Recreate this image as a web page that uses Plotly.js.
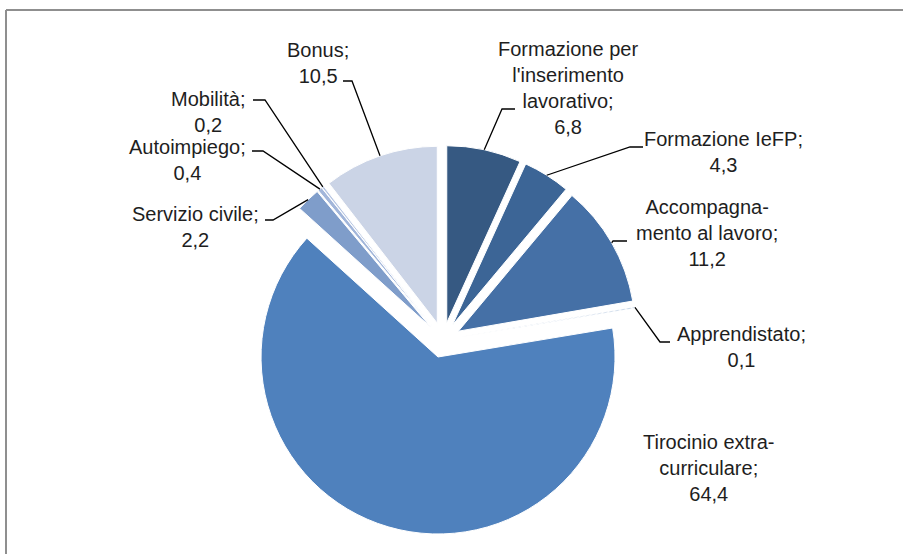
<!DOCTYPE html>
<html>
<head>
<meta charset="utf-8">
<script src="https://cdn.plot.ly/plotly-3.0.1.min.js"></script>
<style>
  html, body { margin: 0; padding: 0; background: #ffffff; }
  #chart { width: 903px; height: 554px; }
</style>
</head>
<body>
<div id="chart"></div>
<script>
// ---- data ----
const categories = ["Formazione per l'inserimento lavorativo", "Formazione IeFP", "Accompagnamento al lavoro", "Apprendistato", "Tirocinio extra-curriculare", "Servizio civile", "Autoimpiego", "Mobilità", "Bonus"];
const values = [6.8, 4.3, 11.2, 0.1, 64.4, 2.2, 0.4, 0.2, 10.5];
const labelLines = ["Formazione per<br>l'inserimento<br>lavorativo;", "Formazione IeFP;", "Accompagna-<br>mento al lavoro;", "Apprendistato;", "Tirocinio extra-<br>curriculare;", "Servizio civile;", "Autoimpiego;", "Mobilità;", "Bonus;"];

// ---- style / layout config ----
const W = 903, H = 554;
const colors = ["#365982", "#3c6596", "#4570a6", "#4a79b2", "#4f81bd", "#7f9dca", "#a2b6da", "#b6c5e2", "#cbd4e6"];
const pullAmt = 0.1;
const labelPos = [[568, 88], [723, 152], [707, 233], [741, 347], [709, 468], [195, 227], [187, 160], [208, 112], [318, 63]];
const leaderPts = [[[502, 109], [515, 109]], [[630, 147], [643, 147]], [[613, 241], [627, 241]], [[660, 342], [670, 342]], null, [[273, 220], [265, 220]], [[263, 151], [252, 151]], [[265, 100], [253, 100]], [[352, 81], [343, 81]]];
const fontFam = "Liberation Sans, Arial, sans-serif";

const fmt = v => v.toFixed(1).replace('.', ',');
const px = x => x / W;
const py = y => 1 - y / H;

const trace = {
  type: 'pie',
  labels: categories,
  values: values,
  sort: false,
  direction: 'clockwise',
  rotation: 0,
  pull: values.map(() => pullAmt),
  marker: { colors: colors, line: { color: '#ffffff', width: 1 } },
  textinfo: 'none',
  hoverinfo: 'label+value',
  showlegend: false,
  domain: { x: [0.2750, 0.7062], y: [0.0348, 0.7377] }
};

const annotations = categories.map((c, i) => ({
  xref: 'paper', yref: 'paper',
  x: px(labelPos[i][0]), y: py(labelPos[i][1]),
  xanchor: 'center', yanchor: 'middle', align: 'center',
  showarrow: false,
  text: labelLines[i] + '<br>' + fmt(values[i]),
  font: { family: fontFam, size: 20, color: '#1e1e1e' }
}));

const frameShapes = [
  { type: 'line', xref: 'paper', yref: 'paper', x0: px(6), x1: 1, y0: py(10), y1: py(10), line: { color: '#8f8f8f', width: 2 } },
  { type: 'line', xref: 'paper', yref: 'paper', x0: px(6), x1: px(6), y0: py(10), y1: 0, line: { color: '#8f8f8f', width: 2 } }
];

const layout = {
  width: W, height: H,
  margin: { l: 0, r: 0, t: 0, b: 0 },
  paper_bgcolor: '#ffffff',
  plot_bgcolor: '#ffffff',
  font: { family: fontFam },
  annotations: annotations,
  shapes: frameShapes
};

const gd = document.getElementById('chart');
Plotly.newPlot(gd, [trace], layout, { displayModeBar: false, staticPlot: true }).then(() => {
  // leader lines: anchor at the outer mid-point of each (pulled) slice, from the library's geometry
  const cd = gd.calcdata[0];
  const cd0 = cd[0];
  const total = values.reduce((a, b) => a + b, 0);
  let cum = 0;
  const shapes = frameShapes.slice();
  cd.forEach((pt, k) => {
    const i = (pt.i !== undefined) ? pt.i : k;
    let ax, ay;
    if (pt.pxmid && cd0.cx !== undefined) {
      ax = cd0.cx + (1 + pullAmt) * pt.pxmid[0];
      ay = cd0.cy + (1 + pullAmt) * pt.pxmid[1];
    }
    const v = values[i];
    const mid = (cum + v / 2) / total * 2 * Math.PI;
    cum += v;
    if (ax === undefined || isNaN(ax)) {
      ax = cd0.cx + (1 + pullAmt) * cd0.r * Math.sin(mid);
      ay = cd0.cy - (1 + pullAmt) * cd0.r * Math.cos(mid);
    }
    const lp = leaderPts[i];
    if (!lp) return;
    const path = 'M ' + px(ax) + ',' + py(ay) + ' L ' + px(lp[0][0]) + ',' + py(lp[0][1]) + ' L ' + px(lp[1][0]) + ',' + py(lp[1][1]);
    shapes.push({ type: 'path', xref: 'paper', yref: 'paper', path: path, line: { color: '#000000', width: 1.3 } });
  });
  return Plotly.relayout(gd, { shapes: shapes });
});
</script>
</body>
</html>
